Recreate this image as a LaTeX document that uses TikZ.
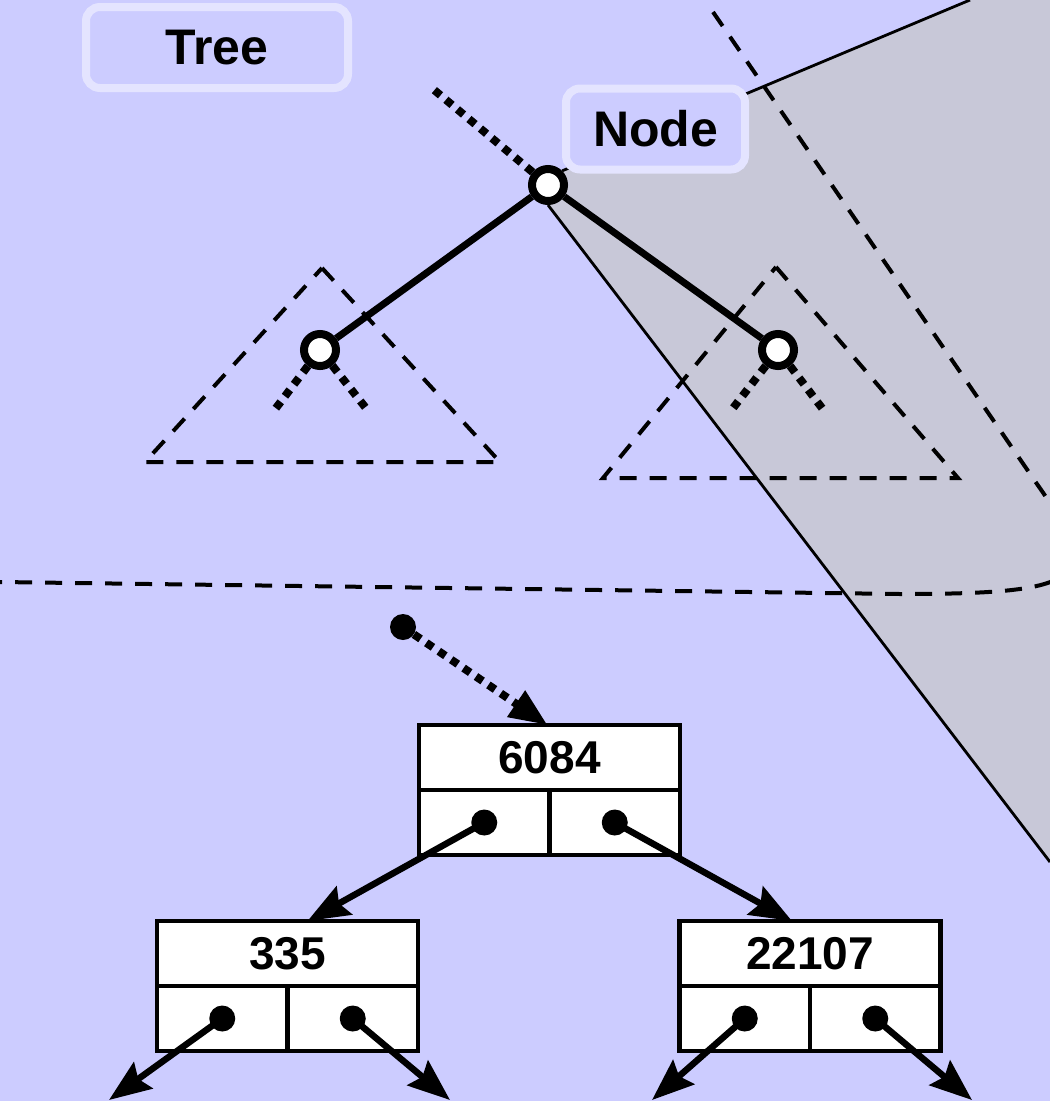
\documentclass[tikz,border=0pt]{standalone}
\usepackage{fontspec}
\setmainfont{Liberation Sans}
\usetikzlibrary{arrows.meta,positioning}

\definecolor{lavender}{RGB}{204,204,255}
\definecolor{rim}{RGB}{228,228,255}
\definecolor{wedgegrey}{RGB}{200,200,216}

\begin{document}
\begin{tikzpicture}[x=1pt, y=-1pt,
  tag/.style={draw=rim, fill=lavender, line width=8pt, rounded corners=14pt, minimum height=81pt, inner sep=0pt, font=\fontsize{50}{60}\selectfont\bfseries},
  vertex/.style={circle, draw, fill=white, line width=8pt, minimum size=32pt, inner sep=0pt},
  branch/.style={line width=7pt},
  stub/.style={line width=8pt, dash pattern=on 8pt off 7pt},
  hull/.style={line width=4pt, dash pattern=on 17pt off 13pt},
  rim line/.style={line width=2.8pt},
  keybox/.style={draw, fill=white, line width=4.5pt, outer sep=0pt, inner sep=0pt, minimum width=261pt, minimum height=65pt, font=\fontsize{46}{55}\selectfont\bfseries},
  cellbox/.style={draw, fill=white, line width=4.5pt, outer sep=0pt, inner sep=0pt, minimum width=130.5pt, minimum height=65pt},
  pin/.style={circle, fill, inner sep=0pt, minimum size=26pt},
  pointer/.style={line width=6.5pt, -{Stealth[length=42pt, width=32pt, inset=6pt]}}]

%Background and grey wedge
\clip (0,0) rectangle (1050,1101);
\fill [lavender] (0,0) rectangle (1050,1101);
\fill [wedgegrey] (548,205) -- (562,171) -- (970,0) -- (1050,0) -- (1050,862) -- cycle;

%Subtree triangles
\draw [hull] (322,268) -- (500,462) -- (145,462) -- cycle;
\draw [hull] (776,267) -- (958,478) -- (603,478) -- cycle;

%Large dashed outline
\draw [hull] (713,12) -- (1037,484) .. controls (1105,580) and (1085,594) .. (900,594) -- (0,582);

%Tree vertices
\node [vertex] (root) at (548,185) {};
\node [vertex] (lchild) at (320,350) {};
\node [vertex] (rchild) at (778,350) {};

%Free ends
\coordinate (ridge) at (970,0);
\coordinate (drop) at (1050,862);
\coordinate (up) at (433,89);
\coordinate (llfoot) at (273,412);
\coordinate (lrfoot) at (369,412);
\coordinate (rlfoot) at (730,412);
\coordinate (rrfoot) at (825,412);

%Wedge borders
\draw [rim line] (root.north east) -- (ridge);
\draw [rim line] (root.south) -- (drop);

%Tree edges
\draw [branch] (root) -- (lchild);
\draw [branch] (root) -- (rchild);

\draw [stub] (root) -- (up);
\draw [stub] (lchild) -- (llfoot);
\draw [stub] (lchild) -- (lrfoot);
\draw [stub] (rchild) -- (rlfoot);
\draw [stub] (rchild) -- (rrfoot);

%Labels
\node [tag, minimum width=262pt] (treetag) at (217,47.5) {Tree};
\node [tag, minimum width=179pt] (nodetag) at (655.5,129) {Node};

%Record boxes
\node [keybox] (k6084) at (549.5,757.5) {6084};
\node [cellbox, below right=0pt of k6084.south west] (c6084l) {};
\node [cellbox, right=0pt of c6084l] (c6084r) {};

\node [keybox] (k335) at (287.5,953.5) {335};
\node [cellbox, below right=0pt of k335.south west] (c335l) {};
\node [cellbox, right=0pt of c335l] (c335r) {};

\node [keybox] (k22107) at (810,953.5) {22107};
\node [cellbox, below right=0pt of k22107.south west] (c22107l) {};
\node [cellbox, right=0pt of c22107l] (c22107r) {};

%Pointer dots
\node [pin] (entry) at (403,627) {};
\node [pin] (p6084l) at (c6084l.center) {};
\node [pin] (p6084r) at (c6084r.center) {};
\node [pin] (p335l) at (c335l.center) {};
\node [pin] (p335r) at (c335r.center) {};
\node [pin] (p22107l) at (c22107l.center) {};
\node [pin] (p22107r) at (c22107r.center) {};

\coordinate (outa) at (109,1100);
\coordinate (outb) at (450,1100);
\coordinate (outc) at (652,1100);
\coordinate (outd) at (972,1100);

%Pointers
\draw [stub, -{Triangle[length=38pt, width=30pt]}] (entry) -- ([xshift=-2pt]k6084.north);
\draw [pointer] (p6084l.center) -- ([xshift=20pt]k335.north);
\draw [pointer] (p6084r.center) -- ([xshift=-18pt]k22107.north);
\draw [pointer] (p335l.center) -- (outa);
\draw [pointer] (p335r.center) -- (outb);
\draw [pointer] (p22107l.center) -- (outc);
\draw [pointer] (p22107r.center) -- (outd);

\end{tikzpicture}
\end{document}
